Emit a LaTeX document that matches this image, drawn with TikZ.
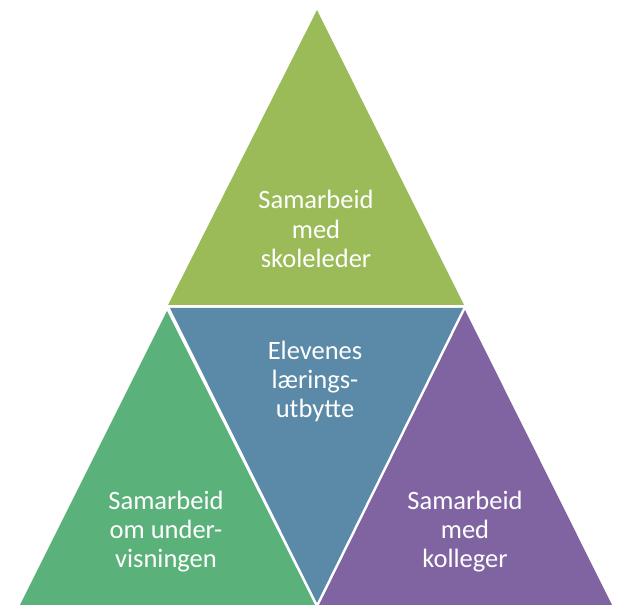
\documentclass[tikz,border=0pt]{standalone}
\usepackage{fontspec}
\setmainfont{Carlito}
\usepackage{tikz}
\usetikzlibrary{positioning}

\definecolor{topgreen}{RGB}{155,187,89}
\definecolor{midblue}{RGB}{91,138,168}
\definecolor{leftgreen}{RGB}{91,177,122}
\definecolor{rightpurple}{RGB}{128,100,162}

\begin{document}
\begin{tikzpicture}[
    x=1pt, y=1pt,
    tri/.style={draw=none},
    lbl/.style={text=white, align=center, inner sep=0pt,
                font=\fontsize{26.5}{29.3}\selectfont},
  ]
  \useasboundingbox (0,0) rectangle (622,616);
  % Triangles
  \fill[tri, topgreen] (168,311) -- (317,606) -- (464,311) -- cycle;
  \fill[tri, midblue] (170,308) -- (463,308) -- (317,13) -- cycle;
  \fill[tri, leftgreen] (20,11) -- (167,305) -- (315,11) -- cycle;
  \fill[tri, rightpurple] (319,11) -- (465,306) -- (612,11) -- cycle;
  % Labels
  \node[lbl] (leder) at (316,387) {Samarbeid\\med\\skoleleder};
  \node[lbl] (elev) at (315,234.5) {Elevenes\\lærings-\\utbytte};
  \node[lbl] (underv) at (166,84.5) {Samarbeid\\om under-\\visningen};
  \node[lbl] (koll) at (465,84.5) {Samarbeid\\med\\kolleger};
\end{tikzpicture}
\end{document}
